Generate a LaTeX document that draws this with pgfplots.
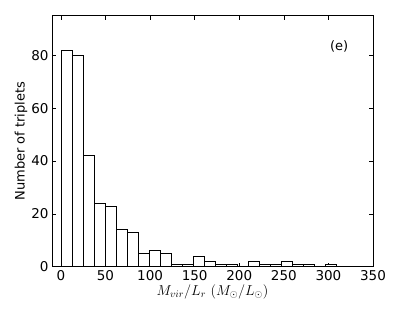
\documentclass[border=0pt]{standalone}
\usepackage{fontspec}
\setmainfont{DejaVu Sans}
\usepackage{pgfplots}
\pgfplotsset{compat=1.18}

% histogram: bin edges (left) and counts, last row closes the final bin
\pgfplotstableread{
x      n
0.5    82
12.85  80
25.2   42
37.55  24
49.9   23
62.25  14
74.6   13
86.95  5
99.3   6
111.65 5
124.0  1
136.35 1
148.7  4
161.05 2
173.4  1
185.75 1
198.1  0
210.45 2
222.8  1
235.15 1
247.5  2
259.85 1
272.2  1
284.55 0
296.9  1
309.25 1
}\hist

\begin{document}
\begin{tikzpicture}
\begin{axis}[
  scale only axis, width=321pt, height=251pt,
  xmin=-10, xmax=350, ymin=0, ymax=95,
  xtick={0,50,...,350}, ytick={0,20,...,80},
  tick align=inside, tick pos=both,
  major tick length=4pt,
  tick style={black, line width=0.5pt},
  axis line style={black, line width=0.6pt},
  /pgf/number format/assume math mode=true,
  tick label style={font=\fontsize{13.5}{15}\selectfont},
  xticklabel style={yshift=-0.5pt},
  label style={font=\fontsize{13}{15}\selectfont},
  xlabel={$M_{vir}/L_r\ (M_\odot/L_\odot)$},
  ylabel={Number of triplets},
  xlabel style={font=\fontsize{14.5}{16}\selectfont, yshift=3pt},
  ylabel style={yshift=-3pt},
]
\addplot[ybar interval, fill=white, draw=black, line width=0.7pt] table[x=x, y=n] {\hist};
\node[font=\fontsize{13}{15}\selectfont] at (axis cs:312,83.5) {(e)};
\end{axis}
\path ([shift={(-52pt,-45pt)}]current axis.south west) rectangle ([shift={(42pt,15.7pt)}]current axis.north east);
\end{tikzpicture}
\end{document}
